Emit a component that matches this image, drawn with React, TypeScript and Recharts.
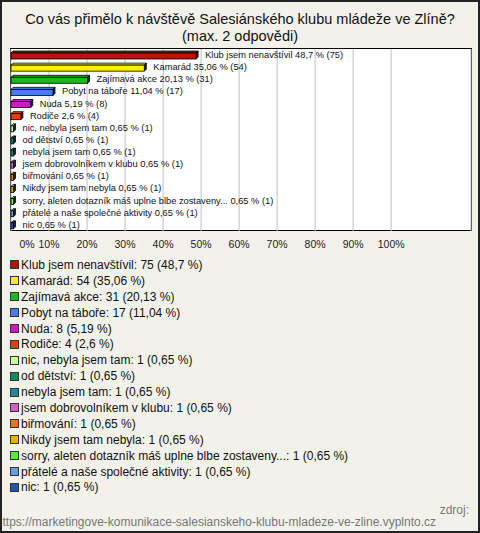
import { BarChart, Bar, XAxis, YAxis, CartesianGrid, LabelList, Cell } from 'recharts'

const answers = [
  'Klub jsem nenavštívil',
  'Kamarád',
  'Zajímavá akce',
  'Pobyt na táboře',
  'Nuda',
  'Rodiče',
  'nic, nebyla jsem tam',
  'od dětství',
  'nebyla jsem tam',
  'jsem dobrovolníkem v klubu',
  'biřmování',
  'Nikdy jsem tam nebyla',
  'sorry, aleten dotazník máš uplne blbe zostaveny...',
  'přátelé a naše společné aktivity',
  'nic',
]
const counts = [75, 54, 31, 17, 8, 4, 1, 1, 1, 1, 1, 1, 1, 1, 1]
const percents = [48.7, 35.06, 20.13, 11.04, 5.19, 2.6, 0.65, 0.65, 0.65, 0.65, 0.65, 0.65, 0.65, 0.65, 0.65]
const colors = [
  '#c0100a', '#ffee00', '#1db81d', '#4a7ef0', '#c81ec8', '#e0400a', '#ccff99', '#0f8a5f',
  '#1f8a9a', '#cc66cc', '#e8780a', '#e8b400', '#55ee33', '#6a9be0', '#2850b8',
]
const ticks = [0, 10, 20, 30, 40, 50, 60, 70, 80, 90, 100]

const fmt = (v: number) => String(v).replace('.', ',')

const data = answers.map((name, i) => ({
  name,
  value: percents[i],
  label: `${name} ${fmt(percents[i])} % (${counts[i]})`,
}))

const font = '"Liberation Sans", Arial, sans-serif'

function Box3D(props: any) {
  const { x, y, width, height, fill } = props
  const d = 2
  const w = Math.max(width, 1.5)
  const top = y + d
  const h = height - d
  return (
    <g stroke="#000" strokeWidth={0.8}>
      <polygon points={`${x},${top} ${x + d},${y} ${x + w + d},${y} ${x + w},${top}`} fill={fill} />
      <polygon points={`${x + w},${top} ${x + w + d},${y} ${x + w + d},${y + h} ${x + w},${top + h}`} fill="#222" />
      <rect x={x} y={top} width={w} height={h} fill={fill} />
    </g>
  )
}

function BarLabel(props: any) {
  const { x, y, width, height, value } = props
  return (
    <text x={x + width + 9} y={y + height / 2 + 3} fontSize={9.3} fontFamily={font} fill="#111">
      {value}
    </text>
  )
}

function Tick(props: any) {
  const { x, y, payload } = props
  const shift = payload.value === 0 ? 16 : 0
  return (
    <text x={x + shift} y={y + 15} textAnchor="middle" fontSize={10.5} fontFamily={font} fill="#222">
      {payload.value}%
    </text>
  )
}

export default function App() {
  return (
    <div
      style={{
        position: 'absolute',
        left: 0,
        top: 0,
        width: 480,
        height: 533,
        boxSizing: 'border-box',
        border: '2px solid #222',
        background: '#f3f2ea',
        fontFamily: font,
        overflow: 'hidden',
      }}
    >
      <div style={{ position: 'absolute', left: 0, top: 9, width: 476, textAlign: 'center', fontSize: 14.5, lineHeight: '17px', color: '#111' }}>
        Co vás přimělo k návštěvě Salesiánského klubu mládeže ve Zlíně?
        <br />
        (max. 2 odpovědi)
      </div>
      <div style={{ position: 'absolute', left: 8, top: 46, width: 462, height: 183, boxSizing: 'border-box', border: '1px solid #000', background: '#fff' }} />
      <div style={{ position: 'absolute', left: -2, top: -2 }}>
        <BarChart
          width={480}
          height={260}
          data={data}
          layout="vertical"
          margin={{ top: 49, left: 11, right: 9, bottom: 0 }}
          barSize={8}
        >
          <CartesianGrid horizontal={false} stroke="#c0c0c0" />
          <XAxis
            type="number"
            domain={[0, 121]}
            ticks={ticks}
            axisLine={false}
            tickLine={false}
            tickSize={0}
            height={29}
            tick={<Tick />}
            interval={0}
          />
          <YAxis type="category" dataKey="name" hide width={0} />
          <Bar dataKey="value" shape={<Box3D />} isAnimationActive={false}>
            {data.map((d, i) => (
              <Cell key={d.name} fill={colors[i]} />
            ))}
            <LabelList dataKey="label" content={<BarLabel />} />
          </Bar>
        </BarChart>
      </div>
      <div style={{ position: 'absolute', left: 8, top: 255 }}>
        {answers.map((name, i) => (
          <div key={name} style={{ height: 15.9, display: 'flex', alignItems: 'center', fontSize: 12, color: '#111', whiteSpace: 'nowrap' }}>
            <span style={{ display: 'inline-block', width: 7, height: 7, border: '1px solid #333', background: colors[i], marginRight: 2 }} />
            {name}: {counts[i]} ({fmt(percents[i])} %)
          </div>
        ))}
      </div>
      <div style={{ position: 'absolute', right: 9, top: 501, fontSize: 12, color: '#777' }}>zdroj:</div>
      <div style={{ position: 'absolute', right: 42, top: 513, width: 600, textAlign: 'right', fontSize: 12, color: '#777', whiteSpace: 'nowrap' }}>
        https://marketingove-komunikace-salesianskeho-klubu-mladeze-ve-zline.vyplnto.cz
      </div>
    </div>
  )
}
